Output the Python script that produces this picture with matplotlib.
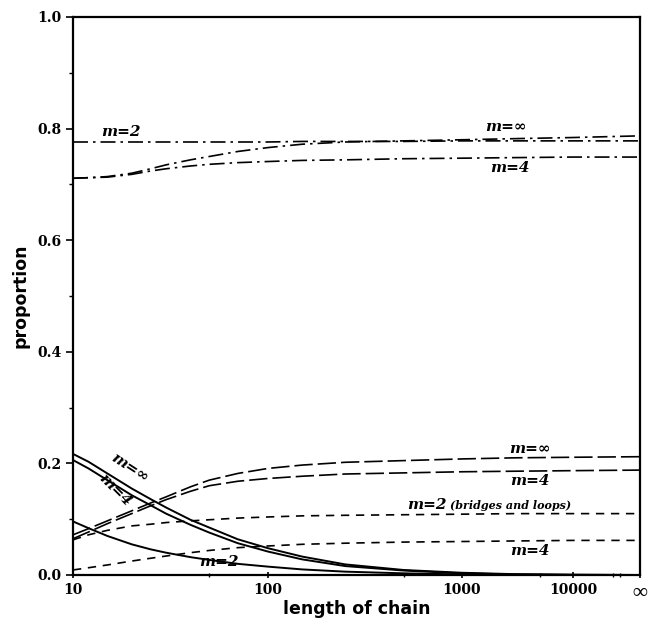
import numpy as np
import matplotlib
matplotlib.use('agg')
import matplotlib.pyplot as plt
from matplotlib.ticker import FixedLocator, MultipleLocator, FormatStrFormatter

# chain length; the last value stands for "infinity"
INF = 1e5
n = [10, 12, 15, 20, 25, 30, 40, 50, 70, 100, 150, 250, 500, 1000, 3000, 10000, INF]

# dash-dot curves (upper group)
dd_m2   = [0.776, 0.776, 0.776, 0.776, 0.776, 0.776, 0.776, 0.776, 0.776, 0.776, 0.777, 0.777, 0.777, 0.778, 0.778, 0.778, 0.778]
dd_minf = [0.711, 0.712, 0.714, 0.720, 0.728, 0.735, 0.744, 0.750, 0.759, 0.766, 0.772, 0.776, 0.778, 0.780, 0.782, 0.784, 0.787]
dd_m4   = [0.711, 0.712, 0.713, 0.718, 0.724, 0.728, 0.733, 0.736, 0.739, 0.741, 0.743, 0.744, 0.746, 0.747, 0.748, 0.749, 0.749]

# long dashed curves
ld_minf = [0.072, 0.083, 0.097, 0.115, 0.129, 0.140, 0.158, 0.170, 0.182, 0.191, 0.197, 0.202, 0.205, 0.208, 0.210, 0.211, 0.212]
ld_m4   = [0.065, 0.077, 0.092, 0.110, 0.124, 0.135, 0.150, 0.160, 0.168, 0.173, 0.177, 0.181, 0.183, 0.185, 0.186, 0.187, 0.188]

# short dashed curves
sd_m2 = [0.063, 0.072, 0.080, 0.088, 0.091, 0.094, 0.097, 0.099, 0.102, 0.104, 0.106, 0.107, 0.108, 0.109, 0.110, 0.110, 0.110]
sd_m4 = [0.009, 0.013, 0.018, 0.025, 0.030, 0.034, 0.040, 0.044, 0.049, 0.052, 0.055, 0.057, 0.059, 0.060, 0.061, 0.062, 0.062]

# solid curves (decreasing)
so_minf = [0.217, 0.203, 0.182, 0.155, 0.136, 0.121, 0.099, 0.085, 0.064, 0.048, 0.033, 0.019, 0.009, 0.004, 0.0015, 0.0005, 0.0]
so_m4   = [0.206, 0.191, 0.170, 0.143, 0.125, 0.110, 0.090, 0.076, 0.057, 0.042, 0.028, 0.016, 0.008, 0.003, 0.001, 0.0003, 0.0]
so_m2   = [0.096, 0.084, 0.070, 0.055, 0.046, 0.040, 0.032, 0.027, 0.020, 0.015, 0.010, 0.006, 0.003, 0.001, 0.0004, 0.0001, 0.0]

xticks = [10, 100, 1000, 10000, INF]
xticklabels = ['10', '100', '1000', '10000', '\u221e']
xminor = [50, 500, 5000, 40000, 50000]

# axis of the original: log-like, compressed beyond 1000, infinity at the end
knot_L = [0, 1, 2, 3, 4, 5, 6]
knot_p = [-195, 0, 195, 389, 500, 567, 634]

def fwd(x):
    L = np.log10(np.clip(np.asarray(x, dtype=float), 1e-6, None))
    return np.interp(L, knot_L, knot_p)

def inv(p):
    return 10 ** np.interp(np.asarray(p, dtype=float), knot_p, knot_L)

fig = plt.figure(figsize=(6.49, 6.2), dpi=100)
ax = fig.add_axes([73/649, 1-575/620, (640-73)/649, (575-17)/620])
ax.set_xscale('function', functions=(fwd, inv))

lw = 1.2
dashdot = (0, (9, 3, 1.5, 3))
longdash = (0, (11, 3))
shortdash = (0, (5, 4))

ax.plot(n, dd_m2, color='black', lw=lw, linestyle=dashdot)
ax.plot(n, dd_minf, color='black', lw=lw, linestyle=dashdot)
ax.plot(n, dd_m4, color='black', lw=lw, linestyle=dashdot)
ax.plot(n, ld_minf, color='black', lw=lw, linestyle=longdash)
ax.plot(n, ld_m4, color='black', lw=lw, linestyle=longdash)
ax.plot(n, sd_m2, color='black', lw=lw, linestyle=shortdash)
ax.plot(n, sd_m4, color='black', lw=lw, linestyle=shortdash)
ax.plot(n, so_minf, color='black', lw=1.4)
ax.plot(n, so_m4, color='black', lw=1.4)
ax.plot(n, so_m2, color='black', lw=1.4)

ax.set_xlim(10, INF)
ax.set_ylim(0, 1.0)

ax.xaxis.set_major_locator(FixedLocator(xticks))
ax.set_xticklabels(xticklabels)
ax.xaxis.set_minor_locator(FixedLocator(xminor))
ax.yaxis.set_major_locator(MultipleLocator(0.2))
ax.yaxis.set_minor_locator(MultipleLocator(0.1))
ax.yaxis.set_major_formatter(FormatStrFormatter('%.1f'))

tickfont = matplotlib.font_manager.FontProperties(family='DejaVu Serif', weight='bold', size=10)
for lab in ax.get_xticklabels() + ax.get_yticklabels():
    lab.set_fontproperties(tickfont)
# the infinity sign is drawn larger in the original
inf_lab = ax.get_xticklabels()[-1]
inf_lab.set_fontproperties(matplotlib.font_manager.FontProperties(family='Liberation Serif', weight='bold', size=15))
ax.tick_params(axis='both', which='major', direction='out', length=5, width=1.2, pad=3)
ax.tick_params(axis='both', which='minor', direction='out', length=3, width=1.0)
ax.tick_params(axis='x', which='both', direction='inout')

for s in ax.spines.values():
    s.set_linewidth(1.6)

ax.set_xlabel('length of chain', fontsize=12.5, fontweight='bold')
ax.xaxis.set_label_coords(0.5, -0.045)
ax.set_ylabel('proportion', fontsize=12.5, fontweight='bold', labelpad=6)

lab = dict(family='DejaVu Serif', style='italic', weight='bold', fontsize=11, color='black')
ax.text(17.5, 0.782, 'm=2', ha='center', va='bottom', **lab)
ax.text(2500, 0.79, 'm=\u221e', ha='center', va='bottom', **lab)
ax.text(2700, 0.742, 'm=4', ha='center', va='top', **lab)
ax.text(4100, 0.214, 'm=\u221e', ha='center', va='bottom', **lab)
ax.text(4100, 0.181, 'm=4', ha='center', va='top', **lab)
ax.text(520, 0.113, 'm=2', ha='left', va='bottom', **lab)
ax.text(870, 0.114, '(bridges and loops)', ha='left', va='bottom',
        family='DejaVu Serif', style='italic', weight='bold', fontsize=8)
ax.text(4100, 0.056, 'm=4', ha='center', va='top', **lab)
ax.text(19.5, 0.192, 'm=\u221e', ha='center', va='center', rotation=-33, **lab)
ax.text(16.5, 0.152, 'm=4', ha='center', va='center', rotation=-45, **lab)
ax.text(56, 0.024, 'm=2', ha='center', va='center', **lab)

fig.savefig('out.png', dpi=100)
